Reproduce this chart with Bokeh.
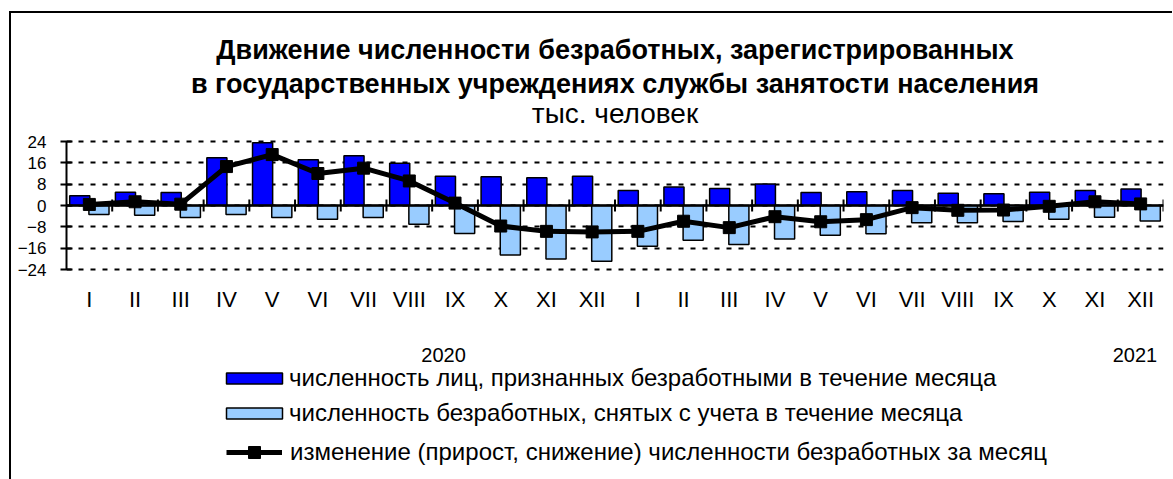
from bokeh.plotting import figure
from bokeh.layouts import column
from bokeh.models import (FixedTicker, Span, Legend, LegendItem, Title, LinearAxis,
                          ColumnDataSource, Range1d)
from bokeh.transform import dodge
from bokeh.embed import file_html
from bokeh.resources import INLINE

# ---------------- data ----------------
months = ["I", "II", "III", "IV", "V", "VI", "VII", "VIII", "IX", "X", "XI", "XII",
          "I", "II", "III", "IV", "V", "VI", "VII", "VIII", "IX", "X", "XI", "XII"]
years = ["2020", "2021"]
registered = [3.7, 5.0, 4.9, 17.9, 23.5, 17.2, 18.7, 15.8, 11.0, 10.8, 10.4, 11.0,
              5.6, 6.9, 6.4, 8.1, 4.9, 5.2, 5.6, 4.6, 4.4, 5.0, 5.6, 6.2]
removed = [-3.4, -3.7, -4.5, -3.4, -4.5, -5.2, -4.5, -7.0, -10.5, -18.6, -20.1, -20.9,
           -15.3, -13.0, -14.6, -12.6, -11.2, -10.6, -6.5, -6.5, -6.0, -5.2, -4.4, -5.8]
change = [0.4, 1.4, 0.5, 14.6, 19.1, 12.0, 14.0, 9.2, 0.9, -7.7, -9.7, -9.9,
          -9.7, -5.9, -8.3, -4.2, -6.1, -5.3, -0.8, -1.8, -1.7, -0.3, 1.4, 0.6]
yticks = [-24, -16, -8, 0, 8, 16, 24]
year_pos = [7.75, 22.875]

title1 = "Движение численности безработных, зарегистрированных"
title2 = "в государственных учреждениях службы занятости населения"
subtitle = "тыс. человек"
leg1 = "численность лиц, признанных безработными в течение месяца"
leg2 = "численность безработных, снятых с учета в течение месяца"
leg3 = "изменение (прирост, снижение) численности безработных за месяц"

FONT = "Liberation Sans"
DARK = "#0000FF"
LIGHT = "#99CCFF"

# ---------------- geometry ----------------
W = 1161
HA, HB = 302, 164
n = len(months)
idx = list(range(n))
YPAD = 0.75
src = ColumnDataSource(dict(x=idx, reg=registered, rem=removed, chg=change))
xr = Range1d(-0.5, n - 0.5)

# ================= chart figure =================
p = figure(width=W, height=HA, output_backend="svg", toolbar_location=None, title=None,
           x_range=xr, y_range=(-24 - YPAD, 24 + YPAD),
           min_border_left=55, min_border_right=9,
           min_border_top=126, min_border_bottom=44)
p.outline_line_color = None
p.background_fill_color = "white"
p.border_fill_color = "white"

p.yaxis.ticker = FixedTicker(ticks=yticks)
p.yaxis.bounds = (yticks[0], yticks[-1])
p.yaxis.axis_line_color = "black"
p.yaxis.axis_line_width = 2
p.yaxis.major_tick_line_color = "black"
p.yaxis.major_tick_line_width = 2
p.yaxis.major_tick_in = 6
p.yaxis.major_tick_out = 6
p.yaxis.minor_tick_line_color = None
p.yaxis.major_label_standoff = 14
p.yaxis.major_label_text_font = FONT
p.yaxis.major_label_text_font_size = "17px"
p.yaxis.major_label_text_color = "black"

p.xaxis.ticker = FixedTicker(ticks=idx)
p.xaxis.major_label_overrides = {i: m for i, m in enumerate(months)}
p.xaxis.axis_line_color = None
p.xaxis.major_tick_line_color = None
p.xaxis.minor_tick_line_color = None
p.xaxis.major_tick_out = 0
p.xaxis.major_label_standoff = 15
p.xaxis.major_label_text_font = FONT
p.xaxis.major_label_text_font_size = "22px"
p.xaxis.major_label_text_color = "black"

p.xgrid.grid_line_color = None
p.ygrid.ticker = FixedTicker(ticks=yticks)
p.ygrid.grid_line_color = "black"
p.ygrid.grid_line_width = 2
p.ygrid.grid_line_dash = "5 7"

r_reg = p.vbar(x=dodge("x", -0.21), top="reg", bottom=0, width=0.44, source=src,
               fill_color=DARK, line_color="black", line_width=1.5)
r_rem = p.vbar(x=dodge("x", 0.21), top=0, bottom="rem", width=0.44, source=src,
               fill_color=LIGHT, line_color="black", line_width=1.5)

p.add_layout(Span(location=0, dimension="width", line_color="black", line_width=2.5))
frame_h = HA - 126 - 44
tick_half = 6 * (48 + 2 * YPAD) / frame_h
bounds = [i + 0.5 for i in idx]
p.segment(x0=bounds, x1=bounds, y0=[-tick_half] * n, y1=[tick_half] * n,
          line_color="black", line_width=2)

p.line("x", "chg", source=src, line_color="black", line_width=5)
p.scatter("x", "chg", source=src, marker="square", size=12,
          fill_color="black", line_color="black")

p.add_layout(Title(text=subtitle, align="center", standoff=22,
                   text_font=FONT, text_font_size="28px", text_font_style="normal",
                   text_color="black"), "above")
p.add_layout(Title(text=title2, align="center", standoff=-28,
                   text_font=FONT, text_font_size="27px", text_font_style="bold",
                   text_color="black"), "above")
p.add_layout(Title(text=title1, align="center", standoff=31,
                   text_font=FONT, text_font_size="27px", text_font_style="bold",
                   text_color="black"), "above")

# ================= legend figure (with year axis on top) =================
q = figure(width=W, height=HB, output_backend="svg", toolbar_location=None, title=None,
           x_range=xr, y_range=(1000, 2000), x_axis_location=None, y_axis_location=None,
           min_border_left=55, min_border_right=9, min_border_top=50, min_border_bottom=0)
q.outline_line_color = None
q.background_fill_color = "white"
q.border_fill_color = "white"
q.xgrid.grid_line_color = None
q.ygrid.grid_line_color = None

yax = LinearAxis(ticker=FixedTicker(ticks=year_pos),
                 major_label_overrides={year_pos[0]: years[0], year_pos[1]: years[1]},
                 axis_line_color=None, major_tick_line_color=None,
                 minor_tick_line_color=None, major_tick_out=0, major_tick_in=0,
                 major_label_standoff=4, major_label_text_font=FONT,
                 major_label_text_font_size="20px", major_label_text_color="black")
q.add_layout(yax, "above")

# legend proxies: same styles as the chart's renderers, hidden from the plot area
l_reg = q.vbar(x="x", top="reg", bottom=0, width=0.44, source=src,
               fill_color=DARK, line_color="black", line_width=1.5, visible=False)
l_rem = q.vbar(x="x", top=0, bottom="rem", width=0.44, source=src,
               fill_color=LIGHT, line_color="black", line_width=1.5, visible=False)
l_line = q.line("x", "chg", source=src, line_color="black", line_width=5, visible=False)
l_pts = q.scatter("x", "chg", source=src, marker="square", size=12,
                  fill_color="black", line_color="black", visible=False)

common = dict(padding=0, margin=0, border_line_color=None, background_fill_alpha=0,
              label_text_font=FONT, label_text_font_size="24px",
              label_text_color="black", inactive_fill_alpha=0, orientation="vertical")
lg1 = Legend(items=[LegendItem(label=leg1, renderers=[l_reg]),
                    LegendItem(label=leg2, renderers=[l_rem])],
             location=(153, 52), glyph_width=70, glyph_height=14,
             label_standoff=0, spacing=7, **common)
lg2 = Legend(items=[LegendItem(label=leg3, renderers=[l_line, l_pts])],
             location=(160, 12), glyph_width=56, glyph_height=30,
             label_standoff=8, spacing=0, **common)
q.add_layout(lg1, "center")
q.add_layout(lg2, "center")

layout = column(p, q, spacing=0)
layout.margin = (11, 0, 0, 9)
layout.styles = {"border-top": "2px solid black", "border-left": "2px solid black"}

open("out.html", "w").write(file_html(layout, INLINE))
